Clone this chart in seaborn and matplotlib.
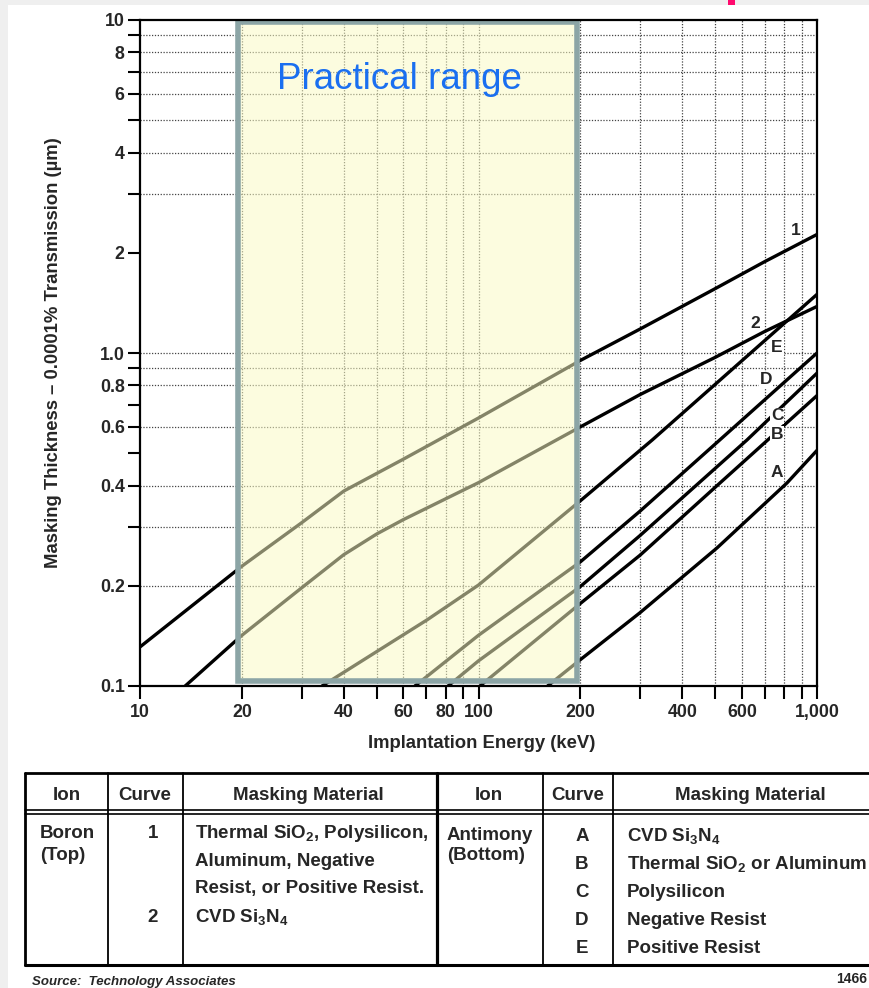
import numpy as np
import pandas as pd
import matplotlib
matplotlib.use("Agg")
import matplotlib.pyplot as plt
import seaborn as sns
from matplotlib.patches import Rectangle
from matplotlib.lines import Line2D
from matplotlib.ticker import FixedLocator, FixedFormatter, NullFormatter

# ---------------- data ----------------
boron1_energy = [10, 20, 30, 40, 60, 100, 200, 300, 500, 700, 1000]
boron1_thick = [0.131, 0.229, 0.309, 0.385, 0.48, 0.638, 0.95, 1.18, 1.56, 1.88, 2.27]

boron2_energy = [13.6, 20, 30, 40, 50, 60, 100, 200, 300, 500, 700, 1000]
boron2_thick = [0.1, 0.142, 0.197, 0.248, 0.286, 0.316, 0.408, 0.60, 0.75, 0.97, 1.16, 1.38]

sbE_energy = [34.5, 70.5, 100, 200, 326, 1000]
sbE_thick = [0.1, 0.158, 0.201, 0.36, 0.548, 1.50]
sbD_energy = [64.9, 100, 200, 300, 516, 1000]
sbD_thick = [0.1, 0.142, 0.236, 0.335, 0.548, 1.0]
sbC_energy = [81.3, 100, 200, 300, 621, 1000]
sbC_thick = [0.1, 0.119, 0.199, 0.283, 0.548, 0.87]
sbB_energy = [101, 200, 300, 507, 711, 1000]
sbB_thick = [0.1, 0.177, 0.247, 0.40, 0.545, 0.745]
sbA_energy = [160, 200, 300, 507, 815, 1000]
sbA_thick = [0.1, 0.12, 0.166, 0.26, 0.407, 0.51]

curve_names = ["1", "2", "E", "D", "C", "B", "A"]
label_x = [867, 656, 762, 707, 762, 762, 762]
label_y = [2.34, 1.23, 1.04, 0.83, 0.647, 0.568, 0.437]

x_ticks = [10, 20, 40, 60, 80, 100, 200, 400, 600, 1000]
x_ticklabels = ["10", "20", "40", "60", "80", "100", "200", "400", "600", "1,000"]
x_minor = [30, 50, 70, 90, 300, 500, 700, 800, 900]
y_ticks = [0.1, 0.2, 0.4, 0.6, 0.8, 1.0, 2, 4, 6, 8, 10]
y_ticklabels = ["0.1", "0.2", "0.4", "0.6", "0.8", "1.0", "2", "4", "6", "8", "10"]
y_minor = [0.3, 0.5, 0.7, 0.9, 3, 5, 7, 9]
grid_x = [20, 30, 40, 50, 60, 70, 80, 90, 100, 200, 300, 400, 500, 600, 700, 800, 900]
grid_y = [0.2, 0.3, 0.4, 0.6, 0.8, 0.9, 1.0, 3, 4, 5, 6, 7, 8, 9]

box_x = (19.5, 195.5)
box_y = (0.1035, 9.85)

# ---------------- style ----------------
sns.set_style("white")
plt.rcParams["font.family"] = ["Liberation Sans", "DejaVu Sans"]
plt.rcParams["font.weight"] = "bold"
plt.rcParams["mathtext.fontset"] = "custom"
plt.rcParams["mathtext.rm"] = "Liberation Sans:bold"
plt.rcParams["mathtext.it"] = "Liberation Sans:italic:bold"
plt.rcParams["mathtext.bf"] = "Liberation Sans:bold"
plt.rcParams["mathtext.default"] = "rm"

W, H = 870, 988
fig = plt.figure(figsize=(W / 100, H / 100), dpi=100, facecolor="white")


def fx(px):
    return px / W


def fy(py):
    return 1 - py / H


# grey margins of the page scan + small pink mark
fig.patches.append(Rectangle((0, 0), fx(8), 1, transform=fig.transFigure,
                             facecolor="#efefef", edgecolor="none", zorder=-5))
fig.patches.append(Rectangle((0, fy(5)), 1, 5 / H, transform=fig.transFigure,
                             facecolor="#efefef", edgecolor="none", zorder=-5))
fig.patches.append(Rectangle((fx(728), fy(5)), 7 / W, 5 / H, transform=fig.transFigure,
                             facecolor="#ff0a6e", edgecolor="none", zorder=-4))

ax = fig.add_axes([fx(140), fy(686), 677 / W, 666 / H])
ax.set_facecolor("white")
ax.set_xscale("log")
ax.set_yscale("log")

# ---------------- curves ----------------
series = [
    ("1", boron1_energy, boron1_thick),
    ("2", boron2_energy, boron2_thick),
    ("E", sbE_energy, sbE_thick),
    ("D", sbD_energy, sbD_thick),
    ("C", sbC_energy, sbC_thick),
    ("B", sbB_energy, sbB_thick),
    ("A", sbA_energy, sbA_thick),
]
df = pd.concat([pd.DataFrame({"energy": e, "thickness": t, "curve": n}) for n, e, t in series],
               ignore_index=True)
sns.lineplot(data=df, x="energy", y="thickness", hue="curve",
             palette={n: "black" for n in curve_names}, estimator=None, sort=False,
             linewidth=2.4, legend=False, ax=ax, zorder=2)

ax.set_xlim(10, 1000)
ax.set_ylim(0.1, 10)

# dotted grid
for v in grid_x:
    ax.axvline(v, color="#444444", lw=0.9, ls=(0, (1, 1.3)), zorder=1)
for v in grid_y:
    ax.axhline(v, color="#444444", lw=0.9, ls=(0, (1, 1.3)), zorder=1)

# ticks
ax.xaxis.set_major_locator(FixedLocator(x_ticks))
ax.xaxis.set_major_formatter(FixedFormatter(x_ticklabels))
ax.xaxis.set_minor_locator(FixedLocator(x_minor))
ax.xaxis.set_minor_formatter(NullFormatter())
ax.yaxis.set_major_locator(FixedLocator(y_ticks))
ax.yaxis.set_major_formatter(FixedFormatter(y_ticklabels))
ax.yaxis.set_minor_locator(FixedLocator(y_minor))
ax.yaxis.set_minor_formatter(NullFormatter())
ax.tick_params(which="both", direction="out", length=9, width=1.5, color="black",
               labelsize=12.8, bottom=True, left=True)
ax.tick_params(axis="x", which="both", pad=4)
ax.tick_params(axis="y", which="both", pad=2)
for s in ax.spines.values():
    s.set_linewidth(1.6)
    s.set_color("black")
    s.set_zorder(6)

# practical range box
ax.add_patch(Rectangle((box_x[0], box_y[0]), box_x[1] - box_x[0], box_y[1] - box_y[0],
                       facecolor=(0.98, 0.98, 0.77, 0.53), edgecolor="#8ca5a6",
                       linewidth=4, zorder=3))
ax.text(0.2024, 0.91, "Practical range", transform=ax.transAxes, color="#1a6ff0",
        fontsize=26.5, fontweight="normal", ha="left", va="center", zorder=4)

# curve labels
for n, lx, ly in zip(curve_names, label_x, label_y):
    ax.text(lx, ly, n, ha="center", va="center", fontsize=12.5, fontweight="bold",
            bbox=dict(facecolor="white", edgecolor="none", pad=0.6), zorder=5)

ax.set_xlabel("Implantation Energy (keV)", fontsize=13.3, fontweight="bold")
ax.xaxis.set_label_coords(0.505, -0.0736)
ax.set_ylabel("Masking Thickness \u2013 0.0001% Transmission (\u00b5m)", fontsize=13.3,
              fontweight="bold")
ax.yaxis.set_label_coords(-0.115, 0.5)

# ---------------- table below ----------------
def hline(y, x0, x1, lw):
    fig.add_artist(Line2D([fx(x0), fx(x1)], [fy(y), fy(y)], transform=fig.transFigure,
                          color="black", lw=lw))


def vline(x, y0, y1, lw):
    fig.add_artist(Line2D([fx(x), fx(x)], [fy(y0), fy(y1)], transform=fig.transFigure,
                          color="black", lw=lw))


hline(773, 25, 880, 2.0)
hline(810, 25, 880, 1.2)
hline(814, 25, 880, 1.2)
hline(965, 25, 880, 2.2)
vline(25, 773, 965, 2.0)
for xv in (108, 183, 543, 613):
    vline(xv, 773, 965, 1.3)
vline(437, 773, 965, 2.3)

TS = 13.5


def t(x, y, s, ha="left", **kw):
    fig.text(fx(x), fy(y), s, ha=ha, va="center", fontsize=TS, fontweight="bold", **kw)


t(67, 795, "Ion", ha="center")
t(145, 795, "Curve", ha="center")
t(308, 795, "Masking Material", ha="center")
t(489, 795, "Ion", ha="center")
t(578, 795, "Curve", ha="center")
t(750, 795, "Masking Material", ha="center")

t(40, 833, "Boron")
t(40, 855, "(Top)")
t(153, 833, "1", ha="center")
t(153, 917, "2", ha="center")
t(195, 833, "Thermal SiO$_2$, Polysilicon,")
t(195, 861, "Aluminum, Negative")
t(195, 888, "Resist, or Positive Resist.")
t(195, 917, "CVD Si$_3$N$_4$")

t(447, 835, "Antimony")
t(447, 856, "(Bottom)")
sb_letters = ["A", "B", "C", "D", "E"]
sb_materials = ["CVD Si$_3$N$_4$", "Thermal SiO$_2$ or Aluminum", "Polysilicon",
                "Negative Resist", "Positive Resist"]
for i, (L, m) in enumerate(zip(sb_letters, sb_materials)):
    yy = 836 + i * 28
    t(582, yy, L, ha="center")
    t(627, yy, m)

fig.text(fx(32), fy(982), "Source:  Technology Associates", ha="left", va="center",
         fontsize=9.5, style="italic", fontweight="bold")
fig.text(fx(867), fy(979), "1466", ha="right", va="center", fontsize=10, fontweight="bold")

fig.savefig("out.png", dpi=100, facecolor=fig.get_facecolor())
